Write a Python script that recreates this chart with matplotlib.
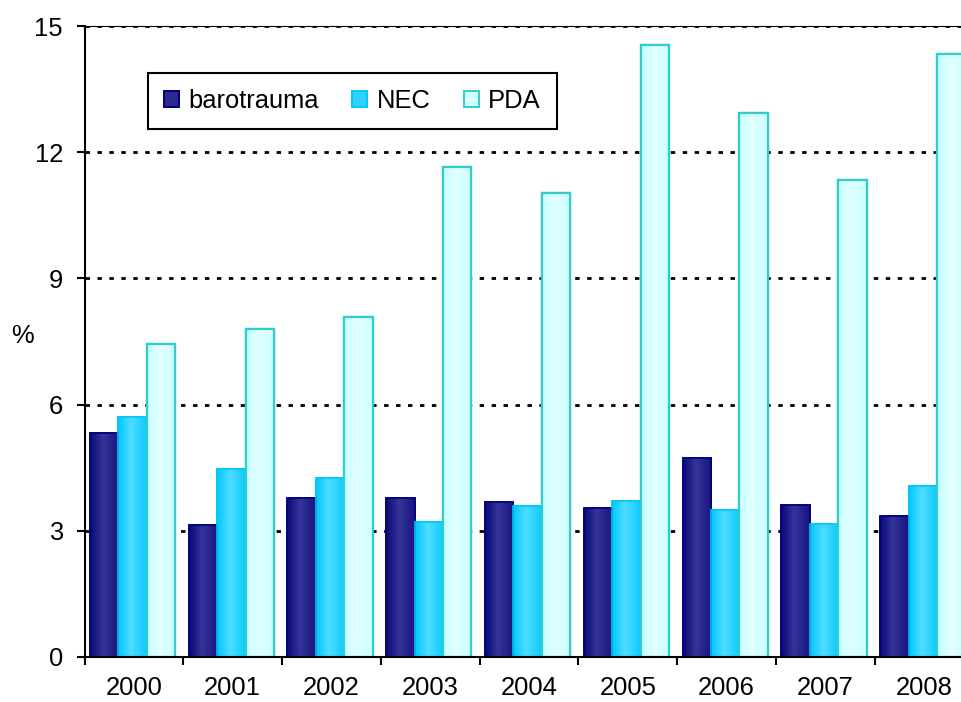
import numpy as np
import matplotlib
matplotlib.use("Agg")
import matplotlib.pyplot as plt
from matplotlib.patches import Patch
from matplotlib.colors import LinearSegmentedColormap

# ── Dados ────────────────────────────────────────────────────────────────────
anos = ["2000", "2001", "2002", "2003", "2004", "2005", "2006", "2007", "2008"]
barotrauma = [5.32, 3.13, 3.78, 3.78, 3.68, 3.55, 4.73, 3.62, 3.36]
nec = [5.70, 4.46, 4.26, 3.20, 3.60, 3.72, 3.50, 3.17, 4.07]
pda = [7.44, 7.80, 8.08, 11.65, 11.03, 14.55, 12.93, 11.33, 14.34]

series = ["barotrauma", "NEC", "PDA"]
yticks = [0, 3, 6, 9, 12, 15]

# ── Estilo ───────────────────────────────────────────────────────────────────
plt.rcParams.update({
    "font.family": ["Liberation Sans", "DejaVu Sans"],
    "font.size": 18.4,
})

FACE = ["#2b2b8c", "#2ed2ff", "#d6ffff"]
EDGE = ["#000080", "#00c8f8", "#33cccc"]
# degradê horizontal (borda -> centro -> borda), imitando o Excel
GRAD = [
    [(0.0, "#0a0a78"), (0.45, "#343499"), (1.0, "#16167f")],
    [(0.0, "#00c8ff"), (0.45, "#50dcff"), (1.0, "#0acbff")],
    [(0.0, "#c8ffff"), (0.45, "#e2ffff"), (1.0, "#ccffff")],
]

W, H = 962, 702
fig = plt.figure(figsize=(W / 100, H / 100), dpi=100)
ax = fig.add_axes([84.5 / W, 1 - 657 / H, 889 / W, 631 / H])

x = np.arange(len(anos))
larg = 0.2875
inicio = 0.055
gradiente = np.linspace(0, 1, 64).reshape(1, -1)
for k, vals in enumerate([barotrauma, nec, pda]):
    cmap = LinearSegmentedColormap.from_list(series[k], GRAD[k])
    bars = ax.bar(x + inicio + k * larg, vals, larg, align="edge",
                  color=FACE[k], edgecolor=EDGE[k],
                  linewidth=1.6 if k == 2 else 1.2, zorder=3)
    for b in bars:
        img = ax.imshow(gradiente, cmap=cmap, aspect="auto", zorder=3.1,
                        extent=[b.get_x(), b.get_x() + b.get_width(), 0, b.get_height()])
        img.set_clip_path(b)
        # contorno por cima do degradê
        contorno = plt.Rectangle((b.get_x(), 0), b.get_width(), b.get_height(),
                                 fill=False, edgecolor=EDGE[k],
                                 linewidth=1.6 if k == 2 else 1.2, zorder=3.2)
        ax.add_patch(contorno)

ax.set_xlim(0, len(anos))
ax.set_ylim(0, 15)

# eixo x: marcas nas divisões, rótulos no centro
ax.set_xticks(np.arange(len(anos) + 1))
ax.set_xticklabels([])
ax.set_xticks(x + 0.5, minor=True)
ax.set_xticklabels(anos, minor=True)
ax.tick_params(axis="x", which="major", direction="out", length=5.5, width=1.5)
ax.tick_params(axis="x", which="minor", length=0, pad=14)

ax.set_yticks(yticks)
ax.set_yticklabels([str(v) for v in yticks])
ax.tick_params(axis="y", direction="out", length=5.5, width=1.5, pad=10)

ax.yaxis.grid(True, color="black", linewidth=2.0, linestyle=(0, (1.6, 2.7)), zorder=1)
ax.set_axisbelow(True)

for lado in ["left", "bottom"]:
    ax.spines[lado].set_linewidth(1.5)
    ax.spines[lado].set_zorder(4)
ax.spines["top"].set_linewidth(0.8)
ax.spines["right"].set_visible(False)

fig.text(22 / W, 1 - 336 / H, "%", ha="center", va="center", fontsize=18.4)

handles = [Patch(facecolor=FACE[k], edgecolor=EDGE[k], linewidth=1.4) for k in range(3)]
leg = ax.legend(handles, series, ncol=3, loc="upper left",
                bbox_to_anchor=(148 / W, 1 - 73 / H), bbox_transform=fig.transFigure,
                handlelength=0.6, handleheight=0.6, handletextpad=0.36,
                columnspacing=1.3, borderpad=0.62, borderaxespad=0,
                fancybox=False, frameon=True, framealpha=1, edgecolor="black")
leg.get_frame().set_linewidth(1.5)
leg.set_zorder(5)

fig.savefig("out.png", dpi=100)
